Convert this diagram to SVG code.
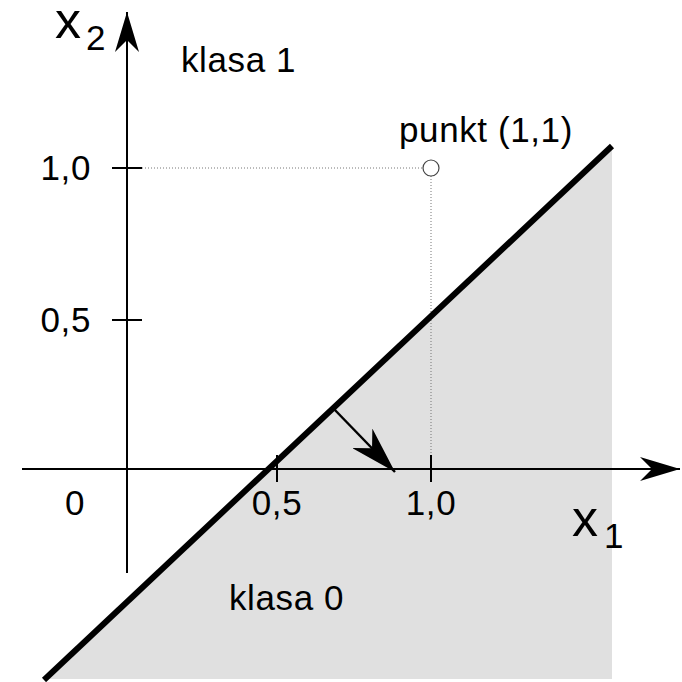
<svg xmlns="http://www.w3.org/2000/svg" width="682" height="682" viewBox="0 0 682 682">
<style>
text{font-family:"Liberation Sans",Arial,sans-serif;fill:#000}
.lbl{font-size:35px;letter-spacing:0.6px}
.var{font-size:52px}
.sub{font-size:35px}
.axis{stroke:#000;stroke-width:2;fill:none}
.tick{stroke:#000;stroke-width:2}
.dot{stroke:#777;stroke-width:1;stroke-dasharray:1 2;fill:none}
</style>
<defs>
<marker id="axhead" markerUnits="userSpaceOnUse" orient="auto" markerWidth="40" markerHeight="24" refX="40" refY="12" viewBox="0 0 40 24">
<path d="M40,12 L0,0 L12,12 L0,24 Z" fill="#000"/>
</marker>
<marker id="nhead" markerUnits="userSpaceOnUse" orient="auto" markerWidth="47" markerHeight="28" refX="47" refY="14" viewBox="0 0 47 28">
<path d="M47,14 L0,0 L14,14 L0,28 Z" fill="#000"/>
</marker>
</defs>
<rect width="682" height="682" fill="#fff"/>
<g id="class0-region">
<polygon points="44,680 612,146 612,679 44,679" fill="#e0e0e0"/>
</g>
<g id="guides">
<line class="dot" x1="142" y1="168" x2="423" y2="168"/>
<line class="dot" x1="431" y1="176" x2="431" y2="456"/>
</g>
<g id="axes">
<line class="axis" x1="22" y1="469" x2="680" y2="469" marker-end="url(#axhead)"/>
<line class="axis" x1="127" y1="573" x2="127" y2="12" marker-end="url(#axhead)"/>
<line class="tick" x1="277" y1="455" x2="277" y2="482"/>
<line class="tick" x1="431" y1="455" x2="431" y2="482"/>
<line class="tick" x1="112" y1="168" x2="142" y2="168"/>
<line class="tick" x1="112" y1="320" x2="142" y2="320"/>
</g>
<g id="decision-line">
<line x1="44" y1="680" x2="612" y2="146" stroke="#000" stroke-width="6"/>
</g>
<g id="connectors">
<line x1="333" y1="408" x2="395" y2="472" stroke="#000" stroke-width="2.5" marker-end="url(#nhead)"/>
</g>
<g id="point">
<circle cx="431" cy="168" r="8" fill="none" stroke="#444" stroke-width="1.2"/>
<text class="lbl" x="399" y="142">punkt (1,1)</text>
</g>
<g id="labels">
<text class="lbl" x="181" y="72">klasa 1</text>
<text class="lbl" x="229" y="610">klasa 0</text>
<text class="lbl" x="91" y="180" text-anchor="end">1,0</text>
<text class="lbl" x="91" y="332" text-anchor="end">0,5</text>
<text class="lbl" x="75" y="515" text-anchor="middle">0</text>
<text class="lbl" x="277" y="515" text-anchor="middle">0,5</text>
<text class="lbl" x="431" y="515" text-anchor="middle">1,0</text>
<text class="var" x="55" y="38">x</text>
<text class="sub" x="86" y="50">2</text>
<text class="var" x="572" y="536">x</text>
<text class="sub" x="604" y="548">1</text>
</g>
</svg>
